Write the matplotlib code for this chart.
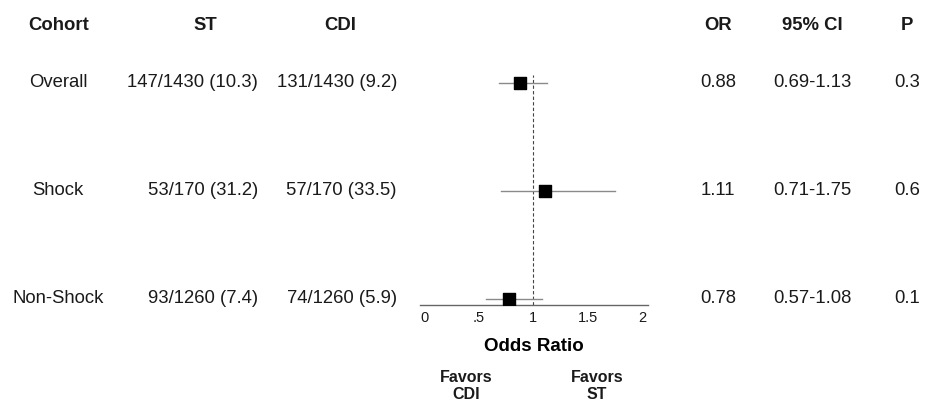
"""
Forest plot: ST vs CDI by cohort
"""

import matplotlib.pyplot as plt
import matplotlib.transforms as mtrans
import numpy as np

plt.rcParams['font.family'] = ['Liberation Sans', 'DejaVu Sans']
plt.rcParams['text.color'] = '#1a1a1a'

# data
cohorts = ["Overall", "Shock", "Non-Shock"]
st_txt = ["147/1430 (10.3)", "53/170 (31.2)", "93/1260 (7.4)"]
cdi_txt = ["131/1430 (9.2)", "57/170 (33.5)", "74/1260 (5.9)"]
odds = [0.88, 1.11, 0.78]
ci_lo = [0.69, 0.71, 0.57]
ci_hi = [1.13, 1.75, 1.08]
pvals = ["0.3", "0.6", "0.1"]
xticks = [0, 0.5, 1, 1.5, 2]
xticklabels = ["0", ".5", "1", "1.5", "2"]

W, H = 929, 407
fig = plt.figure(figsize=(W / 100, H / 100), dpi=100)
fig.patch.set_facecolor("white")

# forest axes placed in pixel terms
x0, x1 = 420, 648
ytop, ybot = 75, 305
ax = fig.add_axes([x0 / W, 1 - ybot / H, (x1 - x0) / W, (ybot - ytop) / H])
ax.set_xlim(-0.037, 2.055)
ypos = np.array([2, 1, 0])
ax.set_ylim(-0.056, 2 + 8 / 108)

for y, o, lo, hi in zip(ypos, odds, ci_lo, ci_hi):
    ax.plot([lo, hi], [y, y], color="#8a8a8a", lw=1.0, zorder=2)
ax.scatter(odds, ypos, marker="s", s=70, color="black", zorder=3)
ax.axvline(1, color="#444444", lw=0.8, ls=(0, (3, 2)), zorder=1)

for s in ["top", "right", "left"]:
    ax.spines[s].set_visible(False)
ax.spines["bottom"].set_color("#666666")
ax.spines["bottom"].set_linewidth(1.0)
ax.set_yticks([])
ax.set_xticks(xticks)
ax.set_xticklabels(xticklabels, fontsize=10.5, color="#1a1a1a")
ax.tick_params(axis="x", length=0, pad=4)
ax.set_xlabel("Odds Ratio", fontsize=13.5, fontweight="bold", labelpad=10)

# table text
tr = mtrans.blended_transform_factory(fig.transFigure, ax.transData)
fs = 13.3
for y, c, s1, s2, o, lo, hi, p in zip(ypos, cohorts, st_txt, cdi_txt, odds, ci_lo, ci_hi, pvals):
    ax.text(58 / W, y, c, transform=tr, ha="center", va="center", fontsize=fs)
    ax.text(258 / W, y, s1, transform=tr, ha="right", va="center", fontsize=fs)
    ax.text(397 / W, y, s2, transform=tr, ha="right", va="center", fontsize=fs)
    ax.text(718 / W, y, "%.2f" % o, transform=tr, ha="center", va="center", fontsize=fs)
    ax.text(812 / W, y, "%.2f-%.2f" % (lo, hi), transform=tr, ha="center", va="center", fontsize=fs)
    ax.text(907 / W, y, p, transform=tr, ha="center", va="center", fontsize=fs)

hy = 1 - 25 / H
headers = [("Cohort", 59), ("ST", 205), ("CDI", 340), ("OR", 718), ("95% CI", 812), ("P", 907)]
for t, x in headers:
    fig.text(x / W, hy, t, ha="center", va="center", fontsize=13.3, fontweight="bold")

fig.text(466 / W, 1 - 386 / H, "Favors\nCDI", ha="center", va="center",
         fontsize=11.5, fontweight="bold", linespacing=1.15)
fig.text(597 / W, 1 - 386 / H, "Favors\nST", ha="center", va="center",
         fontsize=11.5, fontweight="bold", linespacing=1.15)

fig.savefig("out.png", dpi=100, facecolor="white")
